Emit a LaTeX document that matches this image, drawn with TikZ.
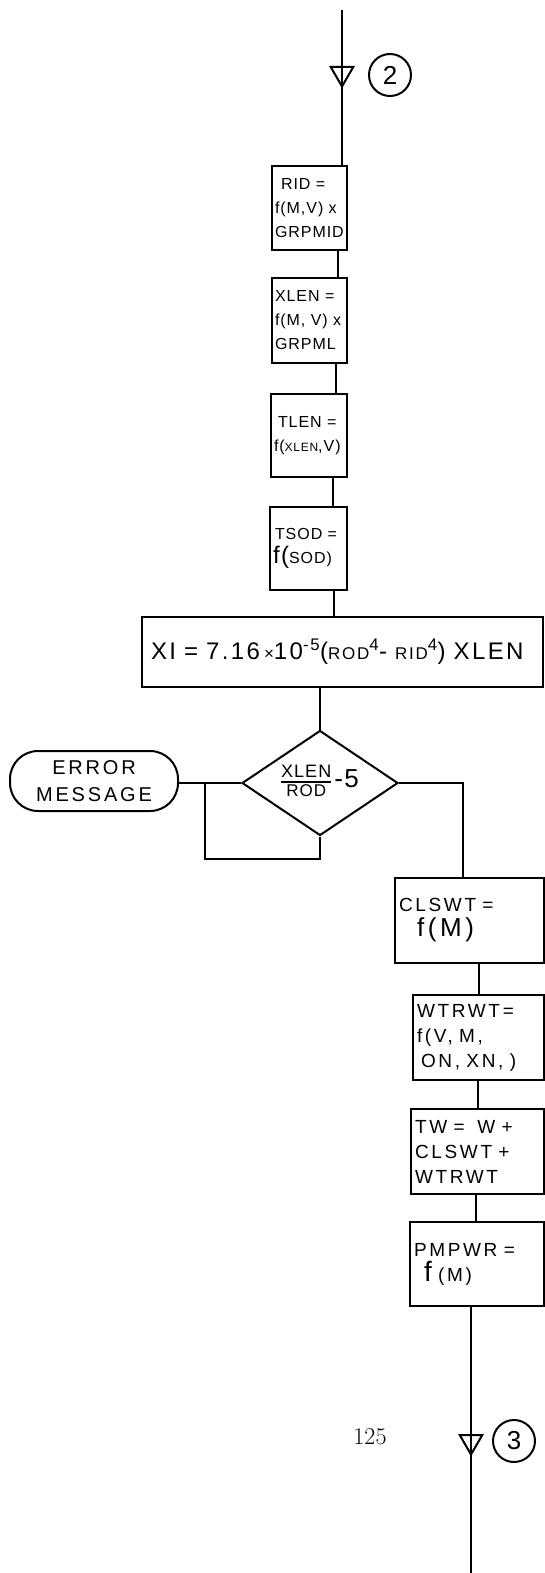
\documentclass[tikz,border=0pt]{standalone}
\usepackage{fontspec}
\newfontfamily\hand[LetterSpace=6]{Liberation Sans}
\usetikzlibrary{positioning,shapes.geometric,calc}

\newcommand\lowtxt[1]{{\fontsize{17}{17}\selectfont #1}}

\begin{document}
\begin{tikzpicture}[x=1pt,y=-1pt,line width=2pt,
  procbox/.style={draw,align=left,inner sep=3pt,font=\hand\fontsize{16}{24}\selectfont},
  widebox/.style={procbox,inner sep=4pt,font=\hand\fontsize{19}{25}\selectfont\addfontfeature{LetterSpace=14}},
  decision/.style={draw,diamond,inner sep=0pt,aspect=1.5,font=\hand\fontsize{18}{20}\selectfont},
  terminal/.style={draw,rounded corners=28pt,align=center,font=\hand\fontsize{20}{27}\selectfont\addfontfeature{LetterSpace=14}},
  marker/.style={draw,regular polygon,regular polygon sides=3,shape border rotate=180,minimum size=26pt,inner sep=0pt},
  conn/.style={draw,circle,minimum size=42pt,inner sep=0pt,font=\hand\fontsize{26}{26}\selectfont}]
  \useasboundingbox (0,0) rectangle (545,1573);

  % entry from page connector 2
  \coordinate (top) at (342,10);
  \node[marker] (m2) at (342,73.5) {};
  \node[conn] (c2) at (390,75) {2};

  % left column
  \node[procbox,text width=69pt,minimum height=84pt] (rid) at (309.5,208)
    {\hspace{6pt}RID =\\ f(M,V) x\\ GRPMID};
  \node[procbox,text width=69pt,minimum height=85pt] (xlen) at (309.5,320.5)
    {XLEN =\\ f(M, V) x\\ GRPML};
  \node[procbox,text width=70pt,minimum height=83pt] (tlen) at (309,435.5)
    {\hspace{4pt}TLEN =\\ f({\fontsize{12}{12}\selectfont XLEN},V)};
  \node[procbox,text width=71pt,minimum height=83pt] (tsod) at (308.5,548.5)
    {\hspace{2pt}TSOD =\\ {\fontsize{24}{26}\selectfont f(}SOD)};
  \node[procbox,text width=395pt,minimum height=70pt,font=\hand\fontsize{24}{26}\selectfont\addfontfeature{LetterSpace=10}] (xi) at (342.5,652)
    {\hspace{6pt}XI = 7.16\,\lowtxt{×}10\textsuperscript{-5}(\lowtxt{ROD}\textsuperscript{4}- \lowtxt{RID}\textsuperscript{4}) XLEN};

  % test
  \node[decision,minimum width=156pt,minimum height=105pt] (dia) at (320,783)
    {\setlength{\arrayrulewidth}{1.8pt}\begin{tabular}{@{}c@{}}XLEN\\[-2pt]\hline \lowtxt{ROD}\end{tabular}\,{\fontsize{26}{26}\selectfont -5}};
  \node[terminal,minimum width=168pt,minimum height=60pt] (err) at (94,781)
    {ERROR\\MESSAGE};

  % right column
  \node[widebox,text width=141pt,minimum height=85pt] (cls) at (469.5,920.5)
    {CLSWT =\\ \hspace{18pt}{\fontsize{26}{28}\selectfont f(M)}};
  \node[widebox,text width=123pt,minimum height=85pt] (wtr) at (478.5,1037.5)
    {WTRWT=\\ f(V, M,\\ \hspace{4pt}ON, XN, )};
  \node[widebox,text width=125pt,minimum height=85pt] (tw) at (477.5,1151.5)
    {TW = \ W +\\ CLSWT +\\ WTRWT};
  \node[widebox,text width=126pt,minimum height=84pt] (pmp) at (477,1264)
    {PMPWR =\\ \hspace{10pt}{\fontsize{28}{28}\selectfont f} (M)};

  % exit to page connector 3
  \coordinate (bot) at (471,1573);
  \node[marker] (m3) at (471,1441.5) {};
  \node[conn] (c3) at (514,1441) {3};
  \node[font=\fontsize{24}{24}\selectfont] (pg) at (370,1437) {125};

  % flow lines
  \draw (top) -- (top |- rid.north);
  \draw ([xshift=28]rid.south) -- ([xshift=28]rid.south |- xlen.north);
  \draw ([xshift=26]xlen.south) -- ([xshift=26]xlen.south |- tlen.north);
  \draw ([xshift=24]tlen.south) -- ([xshift=24]tlen.south |- tsod.north);
  \draw ([xshift=25]tsod.south) -- ([xshift=25]tsod.south |- xi.north);
  \draw (xi.south -| dia.north) -- (dia.north);
  \draw (err.east |- dia.west) -- (dia.west);
  \draw (dia.south) -- ++(0,22) -| ($(err.east |- dia.west)!0.42!(dia.west)$);
  \draw (dia.east) -| ([xshift=-7]cls.north);
  \draw ([xshift=9]cls.south) -- ([xshift=9]cls.south |- wtr.north);
  \draw ([xshift=-1]wtr.south) -- ([xshift=-1]wtr.south |- tw.north);
  \draw ([xshift=-2]tw.south) -- ([xshift=-2]tw.south |- pmp.north);
  \draw ([xshift=-6]pmp.south) -- (bot);
\end{tikzpicture}
\end{document}
